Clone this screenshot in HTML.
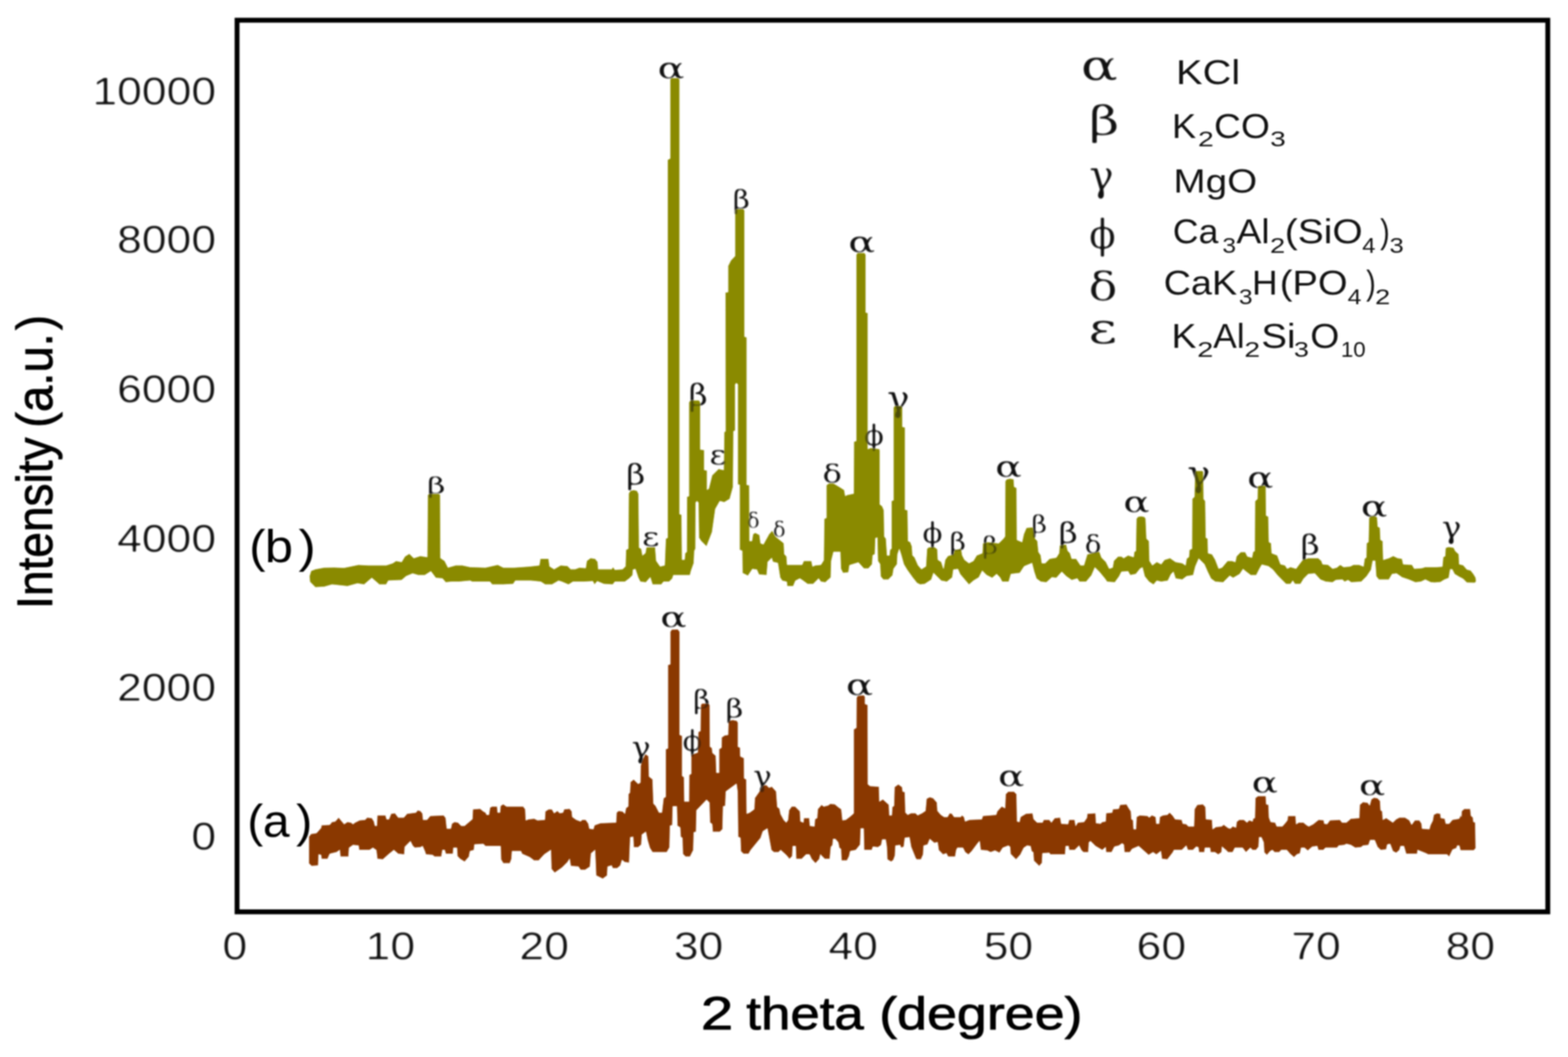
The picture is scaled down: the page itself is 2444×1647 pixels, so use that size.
<!DOCTYPE html>
<html lang="en"><head><meta charset="utf-8"><title>XRD patterns</title>
<style>html,body{margin:0;padding:0;background:#fff;}svg{display:block;filter:blur(0.9px);}</style></head>
<body>
<svg width="2444" height="1647" viewBox="0 0 2444 1647" role="img" aria-label="XRD patterns">
<rect width="2444" height="1647" fill="#fff"/>
<defs><filter id="thin" x="-20%" y="-20%" width="140%" height="140%" color-interpolation-filters="sRGB"><feGaussianBlur stdDeviation="0.8"/><feComponentTransfer><feFuncA type="linear" slope="1.6" intercept="-0.42"/></feComponentTransfer></filter><filter id="thin2" x="-20%" y="-20%" width="140%" height="140%" color-interpolation-filters="sRGB"><feGaussianBlur stdDeviation="0.8"/><feComponentTransfer><feFuncA type="linear" slope="1.6" intercept="-0.5"/></feComponentTransfer></filter></defs>
<g id="peak-labels" filter="url(#thin)">
<text transform="translate(664.81 768.94) scale(1.3859 1)" font-family='"DejaVu Math TeX Gyre", "DejaVu Serif", "Liberation Serif", serif' font-size="36.00" fill="#111">β</text>
<text transform="translate(974.95 755.14) scale(1.1511 1)" font-family='"DejaVu Math TeX Gyre", "DejaVu Serif", "Liberation Serif", serif' font-size="45.03" fill="#111">β</text>
<text transform="translate(998.98 850.65) scale(1.2381 1)" font-family='"DejaVu Math TeX Gyre", "DejaVu Serif", "Liberation Serif", serif' font-size="42.57" fill="#111">ε</text>
<text transform="translate(1022.95 121.73) scale(1.3343 1)" font-family='"DejaVu Math TeX Gyre", "DejaVu Serif", "Liberation Serif", serif' font-size="47.34" fill="#111">α</text>
<text transform="translate(1072.35 632.35) scale(1.1280 1)" font-family='"DejaVu Math TeX Gyre", "DejaVu Serif", "Liberation Serif", serif' font-size="45.95" fill="#111">β</text>
<text transform="translate(1103.88 723.52) scale(1.1919 1)" font-family='"DejaVu Math TeX Gyre", "DejaVu Serif", "Liberation Serif", serif' font-size="44.22" fill="#111">ε</text>
<text transform="translate(1141.28 324.88) scale(1.1323 1)" font-family='"DejaVu Math TeX Gyre", "DejaVu Serif", "Liberation Serif", serif' font-size="41.03" fill="#111">β</text>
<text transform="translate(1163.18 823.49) scale(0.9582 1)" font-family='"DejaVu Math TeX Gyre", "DejaVu Serif", "Liberation Serif", serif' font-size="34.23" fill="#111">δ</text>
<text transform="translate(1203.68 837.29) scale(0.9582 1)" font-family='"DejaVu Math TeX Gyre", "DejaVu Serif", "Liberation Serif", serif' font-size="34.23" fill="#111">δ</text>
<text transform="translate(1280.48 752.10) scale(1.2631 1)" font-family='"DejaVu Math TeX Gyre", "DejaVu Serif", "Liberation Serif", serif' font-size="39.74" fill="#111">δ</text>
<text transform="translate(1320.15 393.43) scale(1.3343 1)" font-family='"DejaVu Math TeX Gyre", "DejaVu Serif", "Liberation Serif", serif' font-size="47.34" fill="#111">α</text>
<text transform="translate(1344.86 694.30) scale(1.0043 1)" font-family='"DejaVu Math TeX Gyre", "DejaVu Serif", "Liberation Serif", serif' font-size="45.26" fill="#111">ϕ</text>
<text transform="translate(1379.86 639.65) scale(1.0673 1)" font-family='"DejaVu Math TeX Gyre", "DejaVu Serif", "Liberation Serif", serif' font-size="55.48" fill="#111">γ</text>
<text transform="translate(1435.95 846.45) scale(1.0034 1)" font-family='"DejaVu Math TeX Gyre", "DejaVu Serif", "Liberation Serif", serif' font-size="45.46" fill="#111">ϕ</text>
<text transform="translate(1479.16 857.88) scale(1.1457 1)" font-family='"DejaVu Math TeX Gyre", "DejaVu Serif", "Liberation Serif", serif' font-size="38.67" fill="#111">β</text>
<text transform="translate(1530.19 863.10) scale(1.1312 1)" font-family='"DejaVu Math TeX Gyre", "DejaVu Serif", "Liberation Serif", serif' font-size="37.64" fill="#111">β</text>
<text transform="translate(1549.20 742.73) scale(1.3203 1)" font-family='"DejaVu Math TeX Gyre", "DejaVu Serif", "Liberation Serif", serif' font-size="47.34" fill="#111">α</text>
<text transform="translate(1606.79 830.16) scale(1.1406 1)" font-family='"DejaVu Math TeX Gyre", "DejaVu Serif", "Liberation Serif", serif' font-size="37.33" fill="#111">β</text>
<text transform="translate(1649.04 845.72) scale(1.1773 1)" font-family='"DejaVu Math TeX Gyre", "DejaVu Serif", "Liberation Serif", serif' font-size="44.21" fill="#111">β</text>
<text transform="translate(1689.46 862.12) scale(1.1143 1)" font-family='"DejaVu Math TeX Gyre", "DejaVu Serif", "Liberation Serif", serif' font-size="38.59" fill="#111">δ</text>
<text transform="translate(1749.07 797.74) scale(1.3443 1)" font-family='"DejaVu Math TeX Gyre", "DejaVu Serif", "Liberation Serif", serif' font-size="45.87" fill="#111">α</text>
<text transform="translate(1847.54 756.99) scale(1.0718 1)" font-family='"DejaVu Math TeX Gyre", "DejaVu Serif", "Liberation Serif", serif' font-size="56.71" fill="#111">γ</text>
<text transform="translate(1942.07 759.84) scale(1.3443 1)" font-family='"DejaVu Math TeX Gyre", "DejaVu Serif", "Liberation Serif", serif' font-size="45.87" fill="#111">α</text>
<text transform="translate(2026.35 864.10) scale(1.2235 1)" font-family='"DejaVu Math TeX Gyre", "DejaVu Serif", "Liberation Serif", serif' font-size="42.36" fill="#111">β</text>
<text transform="translate(2119.31 804.53) scale(1.3322 1)" font-family='"DejaVu Math TeX Gyre", "DejaVu Serif", "Liberation Serif", serif' font-size="46.79" fill="#111">α</text>
<text transform="translate(2244.53 838.49) scale(1.0725 1)" font-family='"DejaVu Math TeX Gyre", "DejaVu Serif", "Liberation Serif", serif' font-size="48.63" fill="#111">γ</text>
<text transform="translate(981.74 1180.03) scale(1.1033 1)" font-family='"DejaVu Math TeX Gyre", "DejaVu Serif", "Liberation Serif", serif' font-size="46.03" fill="#111">γ</text>
<text transform="translate(1027.37 976.54) scale(1.3497 1)" font-family='"DejaVu Math TeX Gyre", "DejaVu Serif", "Liberation Serif", serif' font-size="45.69" fill="#111">α</text>
<text transform="translate(1062.37 1169.99) scale(0.9955 1)" font-family='"DejaVu Math TeX Gyre", "DejaVu Serif", "Liberation Serif", serif' font-size="44.33" fill="#111">ϕ</text>
<text transform="translate(1079.40 1103.51) scale(1.1442 1)" font-family='"DejaVu Math TeX Gyre", "DejaVu Serif", "Liberation Serif", serif' font-size="40.41" fill="#111">β</text>
<text transform="translate(1130.05 1118.26) scale(1.1568 1)" font-family='"DejaVu Math TeX Gyre", "DejaVu Serif", "Liberation Serif", serif' font-size="41.64" fill="#111">β</text>
<text transform="translate(1171.23 1224.66) scale(1.0589 1)" font-family='"DejaVu Math TeX Gyre", "DejaVu Serif", "Liberation Serif", serif' font-size="46.85" fill="#111">γ</text>
<text transform="translate(1316.48 1083.34) scale(1.3952 1)" font-family='"DejaVu Math TeX Gyre", "DejaVu Serif", "Liberation Serif", serif' font-size="45.87" fill="#111">α</text>
<text transform="translate(1553.75 1225.14) scale(1.3480 1)" font-family='"DejaVu Math TeX Gyre", "DejaVu Serif", "Liberation Serif", serif' font-size="45.87" fill="#111">α</text>
<text transform="translate(1949.05 1235.44) scale(1.3480 1)" font-family='"DejaVu Math TeX Gyre", "DejaVu Serif", "Liberation Serif", serif' font-size="45.87" fill="#111">α</text>
<text transform="translate(2116.17 1238.84) scale(1.3497 1)" font-family='"DejaVu Math TeX Gyre", "DejaVu Serif", "Liberation Serif", serif' font-size="45.69" fill="#111">α</text>
</g>
<g id="curve-b"><path d="M482.2 898.0 L484.8 889.4 L491.7 886.8 L505.4 884.2 L520.9 883.9 L536.4 884.6 L558.8 879.9 L574.3 880.8 L601.9 880.8 L612.2 877.4 L617.4 873.9 L626.0 875.6 L631.1 867.0 L638.0 862.7 L644.9 869.6 L655.2 866.2 L665.9 867.9 L666.6 771.5 L669.0 769.2 L684.2 769.2 L686.2 771.5 L686.7 869.6 L693.1 873.9 L698.3 884.2 L710.3 880.8 L720.7 880.8 L732.7 883.4 L756.8 884.2 L775.8 879.9 L784.4 884.2 L801.6 884.2 L825.7 882.5 L840.5 880.8 L842.2 870.5 L855.1 870.5 L856.8 882.5 L863.7 886.8 L874.0 880.8 L884.4 881.7 L889.5 886.8 L896.4 886.8 L903.3 884.2 L912.8 885.1 L914.5 873.9 L920.5 869.6 L927.4 870.5 L931.7 875.6 L932.6 886.8 L953.3 886.8 L955.8 883.4 L958.4 887.7 L970.5 886.8 L974.8 882.5 L975.6 856.7 L979.1 855.0 L979.9 768.9 L982.5 764.6 L987.7 763.4 L992.9 764.6 L995.4 769.7 L996.3 853.3 L999.7 855.0 L1001.5 865.3 L1005.8 861.9 L1007.5 852.4 L1021.3 852.4 L1023.0 873.9 L1029.0 882.5 L1035.9 880.8 L1037.6 839.5 L1040.7 837.8 L1040.5 837.0 L1040.5 249.0 L1044.4 247.0 L1044.4 124.0 L1046.5 121.3 L1057.0 121.3 L1059.3 124.0 L1059.3 801.0 L1062.5 802.0 L1063.2 872.0 L1066.9 872.0 L1067.8 862.0 L1070.3 860.0 L1070.6 774.0 L1073.8 773.0 L1073.8 627.0 L1076.0 623.7 L1089.5 623.7 L1091.7 627.0 L1091.7 700.3 L1097.8 701.2 L1097.8 732.2 L1102.1 733.0 L1102.1 763.0 L1104.6 761.5 L1109.8 740.8 L1120.1 730.5 L1127.9 732.2 L1128.7 673.6 L1130.8 672.0 L1130.5 455.7 L1134.8 455.0 L1134.8 414.4 L1139.1 405.8 L1145.6 398.9 L1145.6 328.0 L1147.5 325.4 L1158.5 325.4 L1160.6 328.0 L1160.6 524.6 L1164.0 525.5 L1164.0 755.4 L1168.0 756.0 L1168.4 842.9 L1171.9 842.9 L1173.6 832.6 L1177.0 830.0 L1183.9 833.4 L1185.6 846.4 L1189.9 848.1 L1198.5 832.6 L1203.7 826.6 L1208.9 836.0 L1217.5 842.9 L1221.8 846.4 L1222.7 863.6 L1226.1 867.0 L1227.0 879.9 L1250.2 879.9 L1252.8 873.9 L1264.8 873.9 L1266.6 882.5 L1270.9 880.8 L1279.5 879.9 L1283.8 873.1 L1284.6 808.5 L1288.1 806.8 L1288.0 806.5 L1288.0 756.0 L1292.0 753.0 L1299.0 753.0 L1309.0 759.0 L1316.0 763.5 L1317.5 772.5 L1321.0 771.0 L1330.5 769.0 L1330.9 688.3 L1334.5 687.0 L1334.5 397.0 L1336.5 393.9 L1347.5 393.9 L1349.5 397.0 L1349.5 486.9 L1352.8 487.5 L1352.8 699.5 L1357.1 697.8 L1370.9 699.5 L1371.5 702.9 L1371.5 786.0 L1375.0 788.5 L1377.8 795.0 L1378.5 836.0 L1381.1 839.5 L1382.8 865.3 L1386.2 865.3 L1387.1 856.7 L1389.4 855.0 L1389.4 780.5 L1392.6 779.5 L1392.6 635.5 L1394.5 632.3 L1405.0 632.3 L1406.7 635.5 L1406.7 665.0 L1410.8 666.0 L1410.8 794.0 L1414.8 795.0 L1415.5 842.9 L1418.9 844.6 L1421.5 851.5 L1422.4 865.3 L1425.8 868.7 L1431.0 880.8 L1436.2 886.8 L1443.1 882.5 L1444.8 855.0 L1448.2 852.4 L1456.8 852.4 L1461.1 855.8 L1462.0 872.2 L1467.2 875.6 L1470.6 886.0 L1473.2 872.2 L1477.5 866.2 L1486.1 863.6 L1487.8 856.7 L1498.2 855.0 L1499.9 865.3 L1503.4 872.2 L1510.3 877.4 L1517.2 873.9 L1522.4 865.3 L1531.0 861.9 L1531.9 846.4 L1539.6 844.6 L1556.8 846.4 L1563.7 839.5 L1566.3 836.0 L1566.8 749.9 L1568.9 746.8 L1574.0 745.6 L1580.1 746.5 L1580.9 758.5 L1584.7 760.3 L1585.2 841.2 L1593.0 844.6 L1595.6 832.6 L1599.9 822.3 L1610.2 821.4 L1613.6 839.5 L1617.1 842.9 L1618.8 860.1 L1622.3 865.3 L1624.0 877.4 L1629.1 877.4 L1636.0 870.5 L1646.4 868.7 L1650.7 861.9 L1651.5 849.8 L1661.9 848.1 L1664.4 858.4 L1667.9 861.9 L1670.5 870.5 L1677.4 870.5 L1684.2 880.8 L1689.4 880.8 L1694.6 863.6 L1713.5 859.3 L1717.0 868.7 L1723.8 875.6 L1729.0 886.0 L1734.2 884.2 L1735.9 873.9 L1742.8 867.0 L1748.0 867.0 L1751.4 869.6 L1758.3 865.3 L1766.9 867.9 L1767.8 860.1 L1770.3 858.4 L1771.2 808.5 L1773.8 805.0 L1778.9 804.2 L1784.1 805.4 L1785.8 808.5 L1787.2 839.5 L1791.0 842.9 L1791.9 873.9 L1796.2 880.8 L1803.1 875.6 L1809.9 879.1 L1815.1 872.2 L1823.7 869.6 L1832.3 875.6 L1842.7 877.4 L1847.8 880.8 L1849.5 870.5 L1853.0 867.9 L1853.9 856.7 L1857.8 855.0 L1858.2 777.5 L1861.6 774.0 L1862.5 735.3 L1864.2 733.6 L1874.0 733.6 L1875.7 735.3 L1876.2 777.5 L1878.8 780.9 L1879.7 837.8 L1882.6 839.5 L1883.1 861.9 L1889.2 863.6 L1894.3 872.2 L1899.6 886.0 L1904.8 884.2 L1913.4 873.9 L1920.3 873.9 L1925.4 875.6 L1927.2 867.0 L1934.0 860.1 L1940.9 860.1 L1944.4 867.0 L1951.3 868.7 L1953.0 860.1 L1955.6 858.4 L1956.1 780.9 L1959.9 777.5 L1960.2 758.5 L1961.9 756.8 L1971.6 756.5 L1973.1 758.5 L1973.6 803.3 L1977.1 805.0 L1978.0 844.6 L1981.4 846.4 L1982.3 861.9 L1990.9 865.3 L1996.0 879.1 L2002.9 880.8 L2006.4 886.0 L2011.5 883.4 L2020.1 886.0 L2025.3 879.1 L2030.5 872.2 L2039.1 869.6 L2054.6 869.6 L2059.7 873.9 L2061.5 879.1 L2070.1 879.9 L2077.0 886.0 L2083.8 884.2 L2089.0 879.9 L2094.2 883.4 L2104.5 882.5 L2109.7 879.9 L2118.3 879.9 L2125.2 882.5 L2126.9 870.5 L2129.5 868.7 L2130.0 846.4 L2132.9 844.6 L2133.8 806.8 L2136.4 804.7 L2140.7 803.8 L2145.0 804.7 L2146.7 806.8 L2147.6 820.5 L2151.0 822.3 L2151.9 841.2 L2155.3 842.9 L2156.2 872.2 L2164.8 869.6 L2171.7 866.2 L2178.6 869.6 L2185.4 870.5 L2187.2 879.1 L2200.9 879.9 L2204.4 886.0 L2216.4 885.1 L2221.6 883.4 L2238.8 883.4 L2248.0 882.8 L2249.4 868.0 L2252.4 866.5 L2253.1 853.9 L2255.4 852.7 L2258.3 852.1 L2265.7 853.2 L2268.7 859.1 L2273.8 863.5 L2274.6 879.1 L2280.5 880.5 L2286.4 887.2 L2292.3 888.7 L2296.8 894.6 L2300.0 899.8 L2300.8 904.2 L2300.8 904.2 L2300.5 906.7 L2298.3 908.2 L2286.4 907.9 L2280.5 902.0 L2274.6 899.0 L2267.2 894.6 L2263.5 887.2 L2260.5 887.2 L2258.3 900.5 L2250.9 903.5 L2245.0 907.2 L2236.1 907.9 L2230.2 907.5 L2221.6 903.2 L2214.7 906.6 L2206.1 907.5 L2195.8 903.2 L2185.4 899.7 L2176.8 893.7 L2169.9 894.6 L2164.8 903.2 L2149.3 903.2 L2145.0 898.0 L2143.3 873.9 L2139.8 873.9 L2137.2 887.7 L2130.3 898.0 L2121.7 906.6 L2106.2 907.5 L2101.1 904.0 L2095.9 906.6 L2092.5 903.2 L2082.1 904.0 L2077.0 907.5 L2066.6 906.6 L2058.0 903.2 L2049.4 893.7 L2039.1 894.6 L2032.2 901.5 L2027.0 910.1 L2018.4 910.1 L2015.0 904.9 L2011.5 910.1 L2004.6 910.1 L1997.8 903.2 L1990.9 896.3 L1984.0 887.7 L1977.1 882.5 L1966.8 879.9 L1963.3 886.0 L1958.1 896.3 L1949.5 896.3 L1942.7 891.1 L1937.5 886.8 L1932.3 894.6 L1922.0 900.6 L1916.8 897.2 L1906.5 907.5 L1894.3 906.6 L1887.4 901.5 L1882.3 891.1 L1877.1 879.1 L1868.5 870.5 L1863.3 882.5 L1859.9 896.3 L1849.5 898.0 L1842.7 903.2 L1832.3 901.5 L1828.9 891.1 L1825.4 894.6 L1820.3 904.9 L1809.9 906.6 L1803.1 904.9 L1797.9 910.9 L1791.0 906.6 L1784.1 898.0 L1780.7 884.2 L1777.2 886.0 L1770.3 894.6 L1761.7 896.3 L1758.3 890.3 L1748.0 891.1 L1744.5 898.0 L1737.6 907.5 L1725.6 906.6 L1722.1 901.5 L1713.5 891.1 L1706.6 884.2 L1701.5 896.3 L1692.9 906.6 L1682.5 906.6 L1679.1 901.5 L1670.5 904.0 L1661.9 898.0 L1655.0 891.1 L1646.4 900.6 L1639.5 899.7 L1630.9 907.5 L1622.3 906.6 L1615.4 901.5 L1611.9 891.1 L1608.5 877.4 L1596.4 882.5 L1589.5 892.9 L1575.8 894.6 L1572.3 906.6 L1562.0 906.6 L1558.5 899.7 L1553.4 894.6 L1546.5 900.6 L1537.9 896.3 L1531.0 889.4 L1525.8 899.7 L1517.2 904.9 L1510.3 910.9 L1505.2 904.9 L1496.4 894.6 L1493.0 886.8 L1486.1 887.7 L1484.4 899.7 L1475.8 906.6 L1467.2 904.9 L1460.3 898.0 L1455.1 892.9 L1451.7 903.2 L1441.3 910.1 L1434.4 910.9 L1429.3 908.4 L1422.4 899.7 L1413.8 887.7 L1408.6 879.1 L1404.3 863.6 L1401.7 855.8 L1399.1 863.6 L1398.3 879.1 L1393.1 886.0 L1391.4 896.3 L1384.5 903.2 L1376.8 903.2 L1372.5 898.0 L1371.6 879.1 L1368.2 873.9 L1367.3 837.8 L1364.7 838.6 L1363.8 863.6 L1360.4 865.3 L1359.5 879.1 L1353.5 886.0 L1346.6 886.0 L1338.0 876.5 L1324.2 880.8 L1322.5 892.0 L1313.9 892.9 L1310.5 886.0 L1309.6 860.1 L1299.3 860.1 L1295.8 873.9 L1295.0 899.7 L1286.4 907.5 L1279.5 906.6 L1276.0 901.5 L1267.4 910.1 L1258.8 910.1 L1251.9 904.9 L1246.8 901.5 L1239.9 904.9 L1236.4 913.5 L1227.0 913.5 L1226.1 906.6 L1219.2 904.9 L1215.8 899.7 L1212.3 877.4 L1204.6 875.6 L1202.8 869.6 L1196.8 875.6 L1195.1 896.3 L1183.0 895.4 L1179.6 887.7 L1172.7 886.8 L1165.8 897.2 L1157.2 892.9 L1156.8 858.4 L1152.8 856.7 L1152.8 755.5 L1149.9 755.0 L1149.9 599.0 L1147.8 597.0 L1146.0 599.0 L1146.0 671.0 L1143.4 672.0 L1142.7 758.5 L1137.5 777.5 L1128.9 782.7 L1122.0 780.9 L1115.1 793.0 L1110.0 829.1 L1101.3 851.5 L1092.7 843.0 L1089.3 837.8 L1088.5 783.0 L1086.3 781.0 L1084.5 783.0 L1084.1 855.0 L1082.4 858.4 L1081.5 877.4 L1077.2 889.4 L1075.5 896.3 L1049.7 896.3 L1048.0 901.5 L1042.8 906.6 L1034.2 906.6 L1030.7 910.9 L1017.0 910.9 L1013.5 899.7 L1006.6 907.5 L998.0 906.6 L994.6 899.7 L990.3 886.8 L986.8 887.7 L986.0 896.3 L980.8 901.5 L973.9 906.6 L958.4 906.6 L955.0 910.9 L941.2 910.1 L930.9 905.8 L926.6 910.9 L924.0 905.8 L910.2 906.6 L893.0 906.6 L886.1 910.9 L875.8 906.6 L870.6 904.9 L860.3 910.9 L849.9 910.9 L843.0 906.6 L827.4 904.9 L803.3 904.9 L799.9 910.1 L784.4 910.9 L767.2 910.9 L763.7 906.6 L736.2 906.6 L732.7 904.9 L715.5 906.6 L703.5 906.6 L694.8 907.5 L689.7 901.5 L679.3 900.6 L671.6 890.3 L662.1 896.3 L651.8 896.3 L643.2 893.7 L632.9 898.0 L626.0 904.0 L605.3 904.9 L601.9 910.9 L591.5 910.9 L579.5 900.6 L567.4 910.9 L557.1 909.2 L541.6 913.5 L517.5 910.9 L505.4 914.4 L491.7 915.2 L483.0 906.6 L482.2 898.0Z" fill="#8a8a00" stroke="#fff" stroke-width="0.8" stroke-linejoin="round"/></g>
<g id="curve-a"><path d="M481.3 1303.9 L484.8 1299.3 L493.4 1297.9 L500.3 1290.1 L501.1 1285.8 L514.0 1285.0 L517.5 1280.7 L522.7 1279.8 L527.8 1273.8 L536.4 1284.1 L541.6 1280.7 L546.8 1281.5 L550.2 1284.1 L553.6 1281.5 L560.5 1278.1 L569.1 1277.2 L572.6 1273.8 L579.5 1274.6 L582.9 1279.8 L584.6 1286.7 L587.2 1286.7 L588.1 1270.3 L601.0 1270.3 L602.7 1276.4 L606.2 1276.4 L609.6 1267.8 L615.6 1266.9 L620.8 1273.8 L629.4 1273.8 L634.6 1267.8 L648.4 1266.0 L650.9 1262.6 L655.2 1263.4 L658.7 1267.8 L659.5 1277.2 L665.6 1277.2 L670.7 1271.2 L691.4 1270.3 L694.8 1274.6 L696.6 1291.0 L702.6 1291.0 L704.3 1283.3 L708.6 1280.7 L713.8 1281.5 L718.9 1286.7 L724.1 1286.7 L736.2 1276.4 L737.0 1260.9 L748.2 1260.0 L753.4 1264.3 L756.8 1266.0 L758.6 1269.5 L762.0 1269.5 L763.7 1258.3 L767.2 1256.6 L774.9 1256.6 L775.8 1266.0 L779.2 1266.0 L780.1 1255.7 L784.4 1253.1 L789.5 1256.6 L815.4 1256.6 L818.8 1260.9 L819.7 1278.1 L824.0 1276.4 L832.6 1275.5 L837.9 1278.1 L849.1 1277.2 L849.9 1264.3 L855.1 1260.9 L860.3 1260.9 L863.7 1266.9 L868.9 1263.4 L872.3 1266.9 L877.5 1266.0 L879.2 1260.9 L887.8 1260.0 L891.3 1264.3 L892.1 1272.9 L898.1 1277.2 L905.0 1279.8 L907.6 1277.2 L912.8 1277.2 L917.1 1283.3 L918.8 1291.0 L924.8 1291.9 L926.6 1285.8 L936.0 1282.4 L960.1 1281.5 L961.0 1266.0 L964.4 1263.4 L970.5 1264.3 L973.9 1267.8 L975.6 1259.1 L979.1 1256.6 L979.4 1237.6 L981.7 1235.0 L982.5 1218.7 L987.7 1214.4 L994.6 1221.3 L998.0 1219.5 L998.4 1193.7 L999.7 1188.5 L1002.3 1181.7 L1005.8 1174.8 L1010.9 1178.2 L1011.8 1210.1 L1017.3 1214.4 L1018.7 1252.3 L1022.1 1255.7 L1027.3 1266.0 L1031.6 1266.0 L1034.2 1243.6 L1037.3 1241.9 L1037.5 1240.0 L1037.5 1167.5 L1041.0 1166.0 L1041.0 1036.0 L1044.7 1035.0 L1044.7 984.5 L1047.0 980.8 L1056.5 980.5 L1059.5 984.5 L1059.5 1145.0 L1063.3 1146.6 L1063.3 1209.0 L1066.3 1210.9 L1066.9 1248.8 L1073.8 1248.8 L1074.1 1207.5 L1077.2 1205.8 L1077.2 1176.0 L1087.4 1172.5 L1088.3 1140.6 L1091.7 1138.9 L1092.2 1099.0 L1094.0 1096.0 L1104.5 1096.0 L1106.4 1099.0 L1106.8 1163.5 L1109.8 1165.6 L1110.7 1173.3 L1115.8 1177.6 L1116.8 1204.0 L1120.8 1204.0 L1120.8 1167.3 L1124.5 1165.0 L1124.8 1149.0 L1129.6 1145.8 L1134.8 1144.9 L1135.3 1125.5 L1137.5 1122.5 L1142.5 1121.7 L1148.5 1123.0 L1150.3 1126.0 L1150.3 1163.5 L1153.8 1165.0 L1154.0 1178.5 L1159.8 1181.3 L1160.0 1212.7 L1163.4 1214.4 L1164.0 1267.8 L1168.6 1266.0 L1175.5 1260.9 L1176.4 1243.6 L1182.4 1235.0 L1189.3 1223.8 L1194.4 1223.0 L1198.7 1227.3 L1203.0 1225.6 L1209.9 1233.3 L1211.7 1257.4 L1215.1 1260.0 L1216.8 1268.6 L1222.0 1278.1 L1225.4 1281.5 L1228.0 1278.1 L1229.7 1262.6 L1234.0 1256.6 L1239.2 1256.6 L1247.0 1264.3 L1247.8 1279.8 L1252.1 1281.5 L1253.0 1274.6 L1261.6 1274.6 L1262.5 1286.7 L1269.3 1287.6 L1270.2 1276.4 L1273.6 1274.6 L1274.5 1260.9 L1280.5 1254.0 L1284.0 1256.6 L1290.9 1254.8 L1294.3 1252.3 L1301.2 1253.1 L1306.4 1257.4 L1311.5 1260.9 L1313.3 1278.1 L1318.4 1277.2 L1325.3 1272.1 L1330.1 1267.8 L1330.6 1267.0 L1330.6 1136.5 L1334.7 1134.0 L1335.0 1087.0 L1337.0 1084.0 L1346.5 1083.0 L1348.3 1086.0 L1348.3 1096.7 L1352.6 1098.4 L1352.9 1222.1 L1356.3 1224.7 L1370.1 1225.6 L1370.9 1248.8 L1376.1 1245.4 L1385.6 1254.0 L1386.4 1270.3 L1389.9 1270.3 L1390.7 1257.4 L1393.3 1255.7 L1394.2 1226.4 L1400.2 1222.1 L1406.2 1226.4 L1407.1 1233.3 L1410.5 1234.2 L1411.4 1266.0 L1414.8 1269.5 L1420.0 1266.9 L1426.9 1266.9 L1430.3 1270.3 L1437.2 1266.9 L1442.4 1263.4 L1444.1 1244.5 L1449.3 1241.9 L1454.4 1243.6 L1460.5 1250.5 L1461.3 1263.4 L1466.5 1269.5 L1471.7 1272.9 L1476.8 1272.9 L1480.3 1266.9 L1483.7 1267.8 L1487.2 1272.9 L1497.5 1272.9 L1499.2 1270.3 L1502.7 1272.9 L1504.4 1279.8 L1511.3 1277.2 L1530.2 1276.4 L1531.9 1271.2 L1552.6 1269.5 L1554.3 1264.3 L1561.3 1256.6 L1566.5 1259.1 L1567.4 1237.6 L1571.7 1233.3 L1580.3 1233.3 L1584.6 1237.6 L1585.4 1279.8 L1588.9 1280.7 L1590.6 1272.9 L1599.2 1267.8 L1609.5 1266.9 L1611.3 1276.4 L1616.4 1281.5 L1625.0 1281.5 L1626.8 1277.2 L1635.4 1277.2 L1638.8 1281.5 L1644.0 1274.6 L1652.6 1273.8 L1654.3 1283.3 L1664.6 1284.1 L1666.4 1277.2 L1675.0 1277.2 L1676.7 1286.7 L1680.1 1281.5 L1689.6 1280.7 L1693.9 1274.6 L1694.8 1267.8 L1707.7 1266.9 L1708.5 1282.4 L1715.4 1283.3 L1718.0 1280.7 L1723.2 1279.8 L1724.0 1266.9 L1733.5 1266.0 L1734.4 1260.9 L1743.8 1260.0 L1745.6 1254.0 L1755.9 1253.1 L1759.3 1259.1 L1762.8 1264.3 L1763.7 1276.4 L1766.2 1278.1 L1767.1 1291.9 L1770.5 1291.9 L1771.4 1272.9 L1776.6 1270.3 L1788.6 1271.2 L1791.2 1273.8 L1795.5 1270.3 L1801.5 1272.9 L1802.4 1283.3 L1806.7 1283.3 L1807.6 1272.9 L1812.7 1270.3 L1819.6 1269.5 L1823.1 1266.0 L1828.2 1271.2 L1831.7 1276.4 L1842.0 1277.2 L1843.7 1283.3 L1848.9 1284.1 L1852.3 1287.6 L1860.9 1287.6 L1861.8 1260.9 L1866.1 1254.0 L1874.7 1253.1 L1879.0 1257.4 L1879.9 1276.4 L1889.3 1277.2 L1890.2 1291.9 L1895.4 1288.4 L1904.0 1287.6 L1907.4 1285.0 L1914.3 1290.1 L1917.9 1291.0 L1921.3 1287.6 L1926.5 1289.3 L1927.4 1280.7 L1931.7 1277.2 L1938.5 1277.2 L1943.7 1281.5 L1947.2 1278.1 L1952.3 1279.8 L1953.2 1275.5 L1955.8 1274.6 L1956.6 1243.6 L1960.9 1240.2 L1973.0 1240.2 L1973.8 1253.1 L1977.3 1254.0 L1978.1 1273.8 L1980.7 1280.7 L1987.6 1281.5 L1990.2 1287.6 L1998.8 1287.6 L2004.0 1281.5 L2006.6 1278.1 L2007.4 1271.2 L2019.5 1271.2 L2020.3 1284.1 L2024.6 1281.5 L2031.5 1281.5 L2036.7 1285.8 L2040.1 1287.6 L2047.0 1284.1 L2052.2 1279.8 L2055.6 1277.2 L2063.4 1278.1 L2064.2 1283.3 L2068.5 1284.1 L2072.9 1278.1 L2088.4 1277.2 L2091.8 1281.5 L2098.7 1281.5 L2105.6 1275.5 L2118.5 1274.6 L2119.3 1254.0 L2124.5 1249.7 L2131.4 1250.5 L2134.8 1254.8 L2137.4 1245.4 L2141.7 1242.8 L2146.9 1243.6 L2151.2 1248.0 L2152.1 1262.6 L2154.6 1264.3 L2155.5 1277.2 L2160.7 1274.6 L2171.0 1281.5 L2176.2 1276.4 L2181.3 1273.8 L2189.9 1273.8 L2196.8 1278.1 L2200.3 1285.0 L2205.4 1278.1 L2212.3 1278.1 L2215.8 1283.3 L2216.6 1291.0 L2227.8 1291.9 L2229.5 1285.8 L2233.0 1278.9 L2234.7 1269.5 L2239.9 1266.9 L2245.0 1267.8 L2245.9 1274.6 L2251.9 1275.5 L2253.7 1283.3 L2258.8 1283.3 L2264.0 1277.2 L2274.3 1275.5 L2277.8 1267.8 L2277.6 1272.5 L2278.2 1263.9 L2282.5 1260.2 L2291.7 1260.2 L2292.9 1271.2 L2295.9 1273.7 L2296.6 1280.4 L2299.6 1281.7 L2300.2 1321.5 L2297.2 1325.1 L2297.2 1325.1 L2276.3 1325.1 L2274.5 1317.8 L2271.4 1317.8 L2270.2 1321.5 L2264.1 1323.9 L2258.8 1334.9 L2255.4 1331.5 L2226.1 1331.5 L2222.7 1329.7 L2214.1 1326.3 L2209.7 1324.6 L2208.9 1330.6 L2191.7 1330.6 L2188.2 1318.5 L2183.1 1318.5 L2181.3 1324.6 L2176.2 1328.9 L2171.0 1326.3 L2166.7 1315.1 L2162.4 1316.0 L2160.7 1323.7 L2152.1 1324.6 L2146.9 1319.4 L2142.6 1309.1 L2135.7 1309.1 L2133.1 1316.8 L2124.5 1317.7 L2121.1 1320.3 L2112.5 1321.1 L2105.6 1316.8 L2098.7 1315.1 L2095.2 1316.8 L2086.6 1317.7 L2084.0 1321.1 L2066.0 1321.1 L2062.5 1324.6 L2054.8 1324.6 L2053.1 1318.5 L2045.3 1319.4 L2038.4 1325.4 L2033.3 1321.1 L2028.1 1321.1 L2026.4 1329.7 L2021.2 1331.5 L2016.9 1335.8 L2010.9 1330.6 L2005.7 1324.6 L1997.1 1324.6 L1993.6 1328.0 L1986.8 1328.0 L1983.3 1324.6 L1979.9 1326.3 L1974.7 1332.3 L1970.4 1328.0 L1969.5 1312.5 L1966.1 1304.8 L1962.7 1304.8 L1961.8 1319.4 L1957.5 1324.6 L1952.3 1324.6 L1948.9 1321.1 L1942.0 1328.0 L1936.8 1321.1 L1924.8 1321.1 L1921.3 1328.0 L1914.4 1328.0 L1910.9 1324.6 L1904.8 1319.4 L1904.0 1328.0 L1898.8 1331.5 L1893.7 1328.0 L1886.8 1328.0 L1885.9 1321.1 L1878.2 1321.1 L1877.3 1328.0 L1868.7 1328.0 L1867.8 1320.3 L1864.4 1319.4 L1859.2 1324.6 L1851.5 1324.6 L1848.9 1317.7 L1842.0 1324.6 L1829.9 1324.6 L1828.2 1328.0 L1819.6 1339.2 L1811.0 1338.4 L1809.3 1326.3 L1802.4 1331.5 L1797.2 1328.0 L1790.3 1332.3 L1781.7 1324.6 L1774.8 1318.5 L1764.5 1322.9 L1761.1 1328.0 L1752.5 1328.0 L1751.6 1316.0 L1749.0 1314.2 L1743.8 1317.7 L1737.0 1319.4 L1732.7 1328.0 L1724.0 1328.0 L1723.2 1320.3 L1718.0 1324.6 L1707.7 1318.5 L1699.9 1310.8 L1697.4 1312.5 L1696.5 1328.0 L1688.7 1328.0 L1685.3 1324.6 L1681.9 1317.7 L1675.0 1324.6 L1666.4 1324.6 L1665.5 1318.5 L1661.2 1318.5 L1660.3 1331.5 L1637.1 1331.5 L1635.4 1328.9 L1625.0 1329.7 L1624.2 1344.4 L1619.9 1349.5 L1611.3 1340.9 L1610.4 1328.0 L1607.8 1326.3 L1606.1 1318.5 L1600.9 1317.7 L1595.8 1321.1 L1590.6 1331.5 L1583.7 1339.2 L1575.1 1330.6 L1574.2 1319.4 L1571.7 1317.7 L1563.0 1321.1 L1557.9 1328.9 L1550.9 1325.4 L1544.0 1328.0 L1538.8 1325.4 L1528.5 1324.6 L1526.8 1310.8 L1525.0 1312.5 L1514.7 1326.3 L1509.5 1331.5 L1504.4 1328.0 L1500.9 1321.1 L1492.3 1321.1 L1490.6 1324.6 L1488.9 1334.9 L1477.7 1334.9 L1475.1 1329.7 L1469.9 1331.5 L1463.1 1324.6 L1461.3 1312.5 L1456.2 1313.4 L1449.3 1307.4 L1445.8 1316.0 L1439.8 1317.7 L1438.9 1331.5 L1435.5 1339.2 L1428.6 1339.2 L1426.9 1336.6 L1420.0 1319.4 L1417.4 1304.8 L1410.5 1305.6 L1408.8 1319.4 L1404.5 1321.1 L1402.8 1316.8 L1395.9 1317.7 L1395.0 1333.2 L1392.5 1340.1 L1389.0 1342.7 L1383.0 1339.2 L1382.1 1319.4 L1380.4 1308.2 L1375.2 1308.2 L1373.5 1316.8 L1368.4 1320.3 L1360.6 1319.4 L1358.9 1324.6 L1346.8 1324.6 L1346.0 1291.0 L1341.7 1291.0 L1340.8 1316.0 L1333.9 1324.6 L1325.3 1326.3 L1323.6 1334.0 L1320.1 1340.9 L1311.5 1340.9 L1310.7 1322.9 L1308.1 1321.1 L1306.4 1312.5 L1302.1 1307.4 L1298.6 1307.4 L1297.8 1316.8 L1295.2 1319.4 L1293.4 1338.4 L1285.7 1338.4 L1278.8 1331.5 L1277.1 1338.4 L1271.1 1345.2 L1265.0 1338.4 L1261.6 1331.5 L1256.4 1331.5 L1249.5 1338.4 L1240.9 1338.4 L1240.1 1318.5 L1235.8 1318.5 L1234.9 1334.0 L1230.6 1338.4 L1225.4 1332.3 L1216.8 1324.6 L1213.4 1328.0 L1206.5 1328.0 L1202.2 1324.6 L1196.0 1291.0 L1189.2 1295.3 L1185.7 1305.6 L1170.2 1324.6 L1166.8 1330.6 L1159.0 1330.6 L1154.7 1326.3 L1153.9 1305.6 L1150.4 1303.9 L1149.5 1233.3 L1147.8 1221.3 L1131.5 1233.3 L1130.6 1255.7 L1127.2 1256.6 L1126.3 1291.9 L1122.0 1296.2 L1110.8 1296.2 L1109.9 1284.1 L1106.5 1281.5 L1105.6 1250.5 L1101.3 1246.2 L1085.8 1262.6 L1085.0 1296.2 L1081.5 1297.0 L1080.7 1324.6 L1075.5 1334.9 L1068.6 1334.9 L1064.3 1330.6 L1063.5 1305.6 L1060.9 1303.9 L1060.0 1289.3 L1055.7 1286.7 L1054.8 1256.6 L1048.8 1256.6 L1048.0 1285.8 L1044.5 1286.7 L1043.7 1320.3 L1039.3 1328.0 L1017.0 1328.0 L1012.7 1321.1 L1009.2 1309.1 L1006.6 1296.2 L1000.6 1300.5 L999.7 1316.0 L994.6 1320.3 L987.7 1320.3 L986.8 1303.9 L982.5 1304.8 L980.8 1344.4 L973.9 1343.5 L969.6 1340.1 L967.0 1348.7 L961.9 1353.0 L955.0 1353.0 L953.3 1348.7 L947.2 1350.4 L946.4 1364.2 L939.5 1369.3 L929.1 1364.2 L927.4 1324.6 L921.4 1329.7 L919.7 1350.4 L911.9 1355.6 L905.0 1355.6 L901.6 1350.4 L889.5 1349.5 L887.8 1338.4 L884.4 1343.5 L875.8 1352.1 L864.6 1359.9 L859.4 1353.8 L858.5 1324.6 L848.2 1331.5 L839.6 1340.9 L832.6 1340.9 L825.7 1335.8 L813.7 1330.6 L811.9 1326.3 L798.2 1326.3 L797.3 1338.4 L794.7 1345.2 L784.4 1345.2 L780.9 1339.2 L780.1 1318.5 L756.8 1318.5 L753.4 1315.1 L739.6 1316.0 L738.8 1324.6 L732.7 1326.3 L731.0 1334.9 L724.1 1342.7 L717.2 1338.4 L712.9 1334.0 L712.1 1321.1 L706.9 1321.1 L706.0 1330.6 L694.8 1330.6 L693.1 1324.6 L689.7 1324.6 L688.0 1334.9 L677.6 1334.9 L674.2 1332.3 L663.8 1331.5 L662.1 1326.3 L658.7 1318.5 L655.2 1320.3 L646.6 1321.1 L643.2 1317.7 L639.7 1310.8 L631.1 1319.4 L630.3 1331.5 L620.8 1330.6 L613.9 1324.6 L605.3 1331.5 L596.7 1339.2 L588.1 1338.4 L586.4 1324.6 L581.2 1321.1 L576.0 1324.6 L559.7 1324.6 L558.8 1317.7 L550.2 1316.8 L544.2 1321.1 L543.3 1334.9 L530.4 1334.9 L529.5 1324.6 L524.4 1328.0 L514.0 1330.6 L510.6 1338.4 L501.1 1338.4 L500.3 1332.3 L496.8 1331.5 L496.0 1348.7 L485.8 1349.5 L481.3 1345.2 L481.3 1303.9Z" fill="#8a3800" stroke="#fff" stroke-width="0.8" stroke-linejoin="round"/></g>
<use href="#peak-labels" opacity="0.5"/>
<rect x="369.5" y="31.5" width="2043.0" height="1389.3" fill="none" stroke="#000" stroke-width="7.6"/>
<g id="tick-labels" filter="url(#thin2)">
<text transform="translate(143.99 162.68) scale(1.1190 1)" font-family='"Liberation Sans", Arial, Helvetica, sans-serif' font-size="61.97" fill="#111">10000</text>
<text transform="translate(182.48 394.28) scale(1.1190 1)" font-family='"Liberation Sans", Arial, Helvetica, sans-serif' font-size="61.97" fill="#111">8000</text>
<text transform="translate(182.48 626.88) scale(1.1190 1)" font-family='"Liberation Sans", Arial, Helvetica, sans-serif' font-size="61.97" fill="#111">6000</text>
<text transform="translate(182.48 859.58) scale(1.1190 1)" font-family='"Liberation Sans", Arial, Helvetica, sans-serif' font-size="61.97" fill="#111">4000</text>
<text transform="translate(182.48 1091.88) scale(1.1190 1)" font-family='"Liberation Sans", Arial, Helvetica, sans-serif' font-size="61.97" fill="#111">2000</text>
<text transform="translate(298.29 1323.78) scale(1.1190 1)" font-family='"Liberation Sans", Arial, Helvetica, sans-serif' font-size="61.97" fill="#111">0</text>
<text transform="translate(346.86 1495.38) scale(1.1190 1)" font-family='"Liberation Sans", Arial, Helvetica, sans-serif' font-size="61.97" fill="#111">0</text>
<text transform="translate(569.83 1495.38) scale(1.1190 1)" font-family='"Liberation Sans", Arial, Helvetica, sans-serif' font-size="61.97" fill="#111">10</text>
<text transform="translate(809.59 1495.38) scale(1.1190 1)" font-family='"Liberation Sans", Arial, Helvetica, sans-serif' font-size="61.97" fill="#111">20</text>
<text transform="translate(1050.14 1495.38) scale(1.1190 1)" font-family='"Liberation Sans", Arial, Helvetica, sans-serif' font-size="61.97" fill="#111">30</text>
<text transform="translate(1291.26 1495.38) scale(1.1190 1)" font-family='"Liberation Sans", Arial, Helvetica, sans-serif' font-size="61.97" fill="#111">40</text>
<text transform="translate(1533.24 1495.38) scale(1.1190 1)" font-family='"Liberation Sans", Arial, Helvetica, sans-serif' font-size="61.97" fill="#111">50</text>
<text transform="translate(1771.59 1495.38) scale(1.1190 1)" font-family='"Liberation Sans", Arial, Helvetica, sans-serif' font-size="61.97" fill="#111">60</text>
<text transform="translate(2012.69 1495.38) scale(1.1190 1)" font-family='"Liberation Sans", Arial, Helvetica, sans-serif' font-size="61.97" fill="#111">70</text>
<text transform="translate(2253.17 1495.38) scale(1.1190 1)" font-family='"Liberation Sans", Arial, Helvetica, sans-serif' font-size="61.97" fill="#111">80</text>
</g>
<text y="1604.2" font-family='"Liberation Sans", Arial, Helvetica, sans-serif' font-size="71.88" fill="#000" stroke="#000" stroke-width="1.2" stroke-linejoin="round"><tspan x="1092.40" textLength="50.37" lengthAdjust="spacingAndGlyphs">2</tspan> <tspan x="1163.38" textLength="182.85" lengthAdjust="spacingAndGlyphs">theta</tspan> <tspan x="1370.46" textLength="316.69" lengthAdjust="spacingAndGlyphs">(degree)</tspan></text>
<text transform="translate(80.5 0) rotate(-90)" y="0" font-family='"Liberation Sans", Arial, Helvetica, sans-serif' font-size="77.68" fill="#000" stroke="#000" stroke-width="1.2" stroke-linejoin="round"><tspan x="-948.65" textLength="266.95" lengthAdjust="spacingAndGlyphs">Intensity</tspan> <tspan x="-666.52" textLength="147.32" lengthAdjust="spacingAndGlyphs">(a.u.</tspan><tspan x="-514.41" textLength="23.57" lengthAdjust="spacingAndGlyphs">)</tspan></text>
<text y="875.95" font-family='"Liberation Sans", Arial, Helvetica, sans-serif' font-size="71.66" fill="#000"><tspan x="388.43" textLength="25.38" lengthAdjust="spacingAndGlyphs">(</tspan><tspan x="412.86" textLength="44.00" lengthAdjust="spacingAndGlyphs">b</tspan><tspan x="465.29" textLength="26.90" lengthAdjust="spacingAndGlyphs">)</tspan></text>
<text y="1303.85" font-family='"Liberation Sans", Arial, Helvetica, sans-serif' font-size="71.66" fill="#000"><tspan x="385.54" textLength="24.76" lengthAdjust="spacingAndGlyphs">(</tspan><tspan x="409.83" textLength="41.66" lengthAdjust="spacingAndGlyphs">a</tspan><tspan x="461.44" textLength="25.36" lengthAdjust="spacingAndGlyphs">)</tspan></text>
<g filter="url(#thin)">
<text transform="translate(1682.12 125.14) scale(1.2983 1)" font-family='"DejaVu Math TeX Gyre", "DejaVu Serif", "Liberation Serif", serif' font-size="66.24" fill="#111">α</text>
<text transform="translate(1695.83 210.39) scale(1.2961 1)" font-family='"DejaVu Math TeX Gyre", "DejaVu Serif", "Liberation Serif", serif' font-size="63.38" fill="#111">β</text>
<text transform="translate(1694.62 296.38) scale(0.9903 1)" font-family='"DejaVu Math TeX Gyre", "DejaVu Serif", "Liberation Serif", serif' font-size="65.34" fill="#111">γ</text>
<text transform="translate(1694.92 387.01) scale(0.9636 1)" font-family='"DejaVu Math TeX Gyre", "DejaVu Serif", "Liberation Serif", serif' font-size="63.30" fill="#111">ϕ</text>
<text transform="translate(1694.62 468.48) scale(1.2155 1)" font-family='"DejaVu Math TeX Gyre", "DejaVu Serif", "Liberation Serif", serif' font-size="61.54" fill="#111">δ</text>
<text transform="translate(1693.65 535.05) scale(1.2824 1)" font-family='"DejaVu Math TeX Gyre", "DejaVu Serif", "Liberation Serif", serif' font-size="67.71" fill="#111">ε</text>
</g>
<g id="legend-formulas">
<text font-family='"Liberation Sans", Arial, Helvetica, sans-serif' fill="#111"><tspan x="1833.07" y="130.90" font-size="53.48" textLength="99.83" lengthAdjust="spacingAndGlyphs">KCl</tspan></text>
<text font-family='"Liberation Sans", Arial, Helvetica, sans-serif' fill="#111"><tspan x="1826.80" y="214.70" font-size="54.20" textLength="37.69" lengthAdjust="spacingAndGlyphs">K</tspan><tspan x="1867.27" y="228.10" font-size="33.61" textLength="24.58" lengthAdjust="spacingAndGlyphs">2</tspan><tspan x="1892.36" y="214.70" font-size="54.20" textLength="87.02" lengthAdjust="spacingAndGlyphs">CO</tspan><tspan x="1979.89" y="228.10" font-size="33.61" textLength="24.41" lengthAdjust="spacingAndGlyphs">3</tspan></text>
<text font-family='"Liberation Sans", Arial, Helvetica, sans-serif' fill="#111"><tspan x="1829.08" y="299.80" font-size="52.32" textLength="130.37" lengthAdjust="spacingAndGlyphs">MgO</tspan></text>
<text font-family='"Liberation Sans", Arial, Helvetica, sans-serif' fill="#111"><tspan x="1828.03" y="379.10" font-size="54.49" textLength="71.01" lengthAdjust="spacingAndGlyphs">Ca</tspan><tspan x="1905.33" y="393.80" font-size="33.79" textLength="21.36" lengthAdjust="spacingAndGlyphs">3</tspan><tspan x="1927.20" y="379.10" font-size="54.49" textLength="51.72" lengthAdjust="spacingAndGlyphs">Al</tspan><tspan x="1979.52" y="393.80" font-size="33.79" textLength="23.64" lengthAdjust="spacingAndGlyphs">2</tspan><tspan x="2002.49" y="379.10" font-size="54.49" textLength="121.42" lengthAdjust="spacingAndGlyphs">(SiO</tspan><tspan x="2123.30" y="393.80" font-size="33.79" textLength="20.65" lengthAdjust="spacingAndGlyphs">4</tspan><tspan x="2151.37" y="379.10" font-size="54.49" textLength="14.86" lengthAdjust="spacingAndGlyphs">)</tspan><tspan x="2165.69" y="393.80" font-size="33.79" textLength="22.27" lengthAdjust="spacingAndGlyphs">3</tspan></text>
<text font-family='"Liberation Sans", Arial, Helvetica, sans-serif' fill="#111"><tspan x="1813.67" y="459.00" font-size="54.49" textLength="114.73" lengthAdjust="spacingAndGlyphs">CaK</tspan><tspan x="1931.12" y="473.50" font-size="33.79" textLength="21.36" lengthAdjust="spacingAndGlyphs">3</tspan><tspan x="1951.44" y="459.00" font-size="54.49" textLength="39.90" lengthAdjust="spacingAndGlyphs">H</tspan><tspan x="1994.83" y="459.00" font-size="54.49" textLength="105.68" lengthAdjust="spacingAndGlyphs">(PO</tspan><tspan x="2100.57" y="473.50" font-size="33.79" textLength="21.51" lengthAdjust="spacingAndGlyphs">4</tspan><tspan x="2129.45" y="459.00" font-size="54.49" textLength="14.86" lengthAdjust="spacingAndGlyphs">)</tspan><tspan x="2143.25" y="473.50" font-size="33.79" textLength="23.64" lengthAdjust="spacingAndGlyphs">2</tspan></text>
<text font-family='"Liberation Sans", Arial, Helvetica, sans-serif' fill="#111"><tspan x="1826.14" y="542.10" font-size="54.20" textLength="38.88" lengthAdjust="spacingAndGlyphs">K</tspan><tspan x="1865.92" y="556.30" font-size="33.61" textLength="25.21" lengthAdjust="spacingAndGlyphs">2</tspan><tspan x="1891.12" y="542.10" font-size="54.20" textLength="48.93" lengthAdjust="spacingAndGlyphs">Al</tspan><tspan x="1939.47" y="556.30" font-size="33.61" textLength="24.58" lengthAdjust="spacingAndGlyphs">2</tspan><tspan x="1966.05" y="542.10" font-size="54.20" textLength="53.25" lengthAdjust="spacingAndGlyphs">Si</tspan><tspan x="2016.82" y="556.30" font-size="33.61" textLength="23.49" lengthAdjust="spacingAndGlyphs">3</tspan><tspan x="2042.19" y="542.10" font-size="54.20" textLength="45.38" lengthAdjust="spacingAndGlyphs">O</tspan><tspan x="2089.90" y="556.30" font-size="33.61" textLength="38.72" lengthAdjust="spacingAndGlyphs">10</tspan></text>
</g>
</svg>
</body></html>
